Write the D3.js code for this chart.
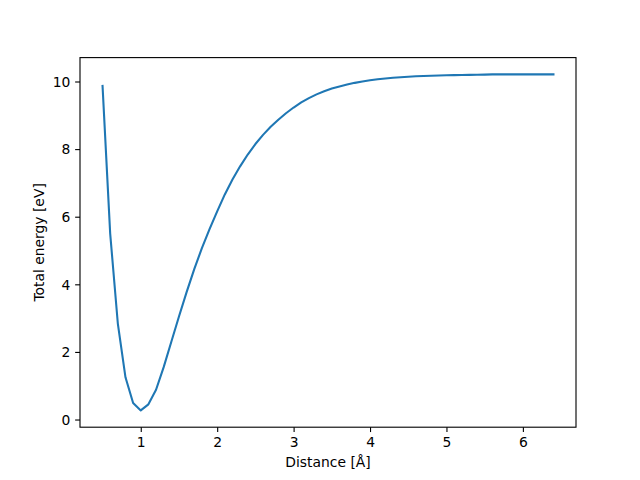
<!DOCTYPE html>
<html>
<head>
<meta charset="utf-8">
<script src="https://cdn.jsdelivr.net/npm/d3@7"></script>
<style>
  html, body { margin: 0; padding: 0; background: #fff; }
  text { font-family: "DejaVu Sans", sans-serif; fill: #000; }
</style>
</head>
<body>
<svg id="chart" width="640" height="480"></svg>
<script>
// Distance [Å]
const distance = [
  0.5, 0.6, 0.7, 0.8, 0.9, 1.0, 1.1, 1.2, 1.3, 1.4,
  1.5, 1.6, 1.7, 1.8, 1.9, 2.0, 2.1, 2.2, 2.3, 2.4,
  2.5, 2.6, 2.7, 2.8, 2.9, 3.0, 3.1, 3.2, 3.3, 3.4,
  3.5, 3.6, 3.7, 3.8, 3.9, 4.0, 4.1, 4.2, 4.3, 4.4,
  4.5, 4.6, 4.7, 4.8, 4.9, 5.0, 5.1, 5.2, 5.3, 5.4,
  5.5, 5.6, 5.7, 5.8, 5.9, 6.0, 6.1, 6.2, 6.3, 6.4
];
// Total energy [eV]
const energy = [
  9.87, 5.50, 2.84, 1.25, 0.49, 0.27, 0.45, 0.88, 1.55, 2.30,
  3.05, 3.77, 4.45, 5.07, 5.63, 6.16, 6.66, 7.10, 7.49, 7.84,
  8.15, 8.42, 8.66, 8.87, 9.06, 9.23, 9.38, 9.51, 9.62, 9.71,
  9.79, 9.855, 9.91, 9.96, 10.00, 10.035, 10.065, 10.09, 10.11, 10.127,
  10.141, 10.153, 10.163, 10.171, 10.178, 10.184, 10.189, 10.193, 10.197, 10.20,
  10.204, 10.21, 10.21, 10.21, 10.21, 10.21, 10.21, 10.21, 10.21, 10.21
];
const xTicks = [1, 2, 3, 4, 5, 6];
const yTicks = [0, 2, 4, 6, 8, 10];
const xLabel = "Distance [Å]";
const yLabel = "Total energy [eV]";

(function () {
const mLeft = 80, mRight = 576, mTop = 57.6, mBottom = 427.2;
const fs = 13.89;
const tickLen = 4.86, pad = 4.86;

const svg = d3.select("#chart");

function padded(ext) {
  const r = ext[1] - ext[0];
  return [ext[0] - 0.05 * r, ext[1] + 0.05 * r];
}
const x = d3.scaleLinear().domain(padded(d3.extent(distance))).range([mLeft, mRight]);
const y = d3.scaleLinear().domain(padded(d3.extent(energy))).range([mBottom, mTop]);

const data = distance.map((d, i) => [d, energy[i]]);

// line
svg.append("path")
  .datum(data)
  .attr("fill", "none")
  .attr("stroke", "#1f77b4")
  .attr("stroke-width", 2.08)
  .attr("stroke-linejoin", "round")
  .attr("stroke-linecap", "square")
  .attr("d", d3.line().x(d => x(d[0])).y(d => y(d[1])));

// axes
const xAxis = d3.axisBottom(x).tickValues(xTicks).tickFormat(d3.format("d"))
  .tickSizeOuter(0).tickSizeInner(tickLen).tickPadding(pad);
const gx = svg.append("g").attr("transform", `translate(0,${mBottom})`).call(xAxis);
const yAxis = d3.axisLeft(y).tickValues(yTicks).tickFormat(d3.format("d"))
  .tickSizeOuter(0).tickSizeInner(tickLen).tickPadding(pad);
const gy = svg.append("g").attr("transform", `translate(${mLeft},0)`).call(yAxis);

[gx, gy].forEach(g => {
  g.select(".domain").remove();
  g.selectAll(".tick line").attr("stroke", "#000").attr("stroke-width", 1.11);
  g.selectAll(".tick text").attr("font-size", fs).attr("font-family", "DejaVu Sans").attr("fill", "#000");
});
gx.selectAll(".tick text").attr("y", tickLen + pad).attr("dy", "0.76em");
gy.selectAll(".tick text").attr("dy", "0.35em");

// spines
svg.append("rect")
  .attr("x", mLeft).attr("y", mTop)
  .attr("width", mRight - mLeft).attr("height", mBottom - mTop)
  .attr("fill", "none").attr("stroke", "#000").attr("stroke-width", 1.11);

// labels
svg.append("text")
  .attr("x", (mLeft + mRight) / 2).attr("y", 466.8)
  .attr("text-anchor", "middle").attr("font-size", fs)
  .text(xLabel);
svg.append("text")
  .attr("transform", `translate(43.8,${(mTop + mBottom) / 2}) rotate(-90)`)
  .attr("text-anchor", "middle").attr("font-size", fs)
  .text(yLabel);
})();
</script>
</body>
</html>
